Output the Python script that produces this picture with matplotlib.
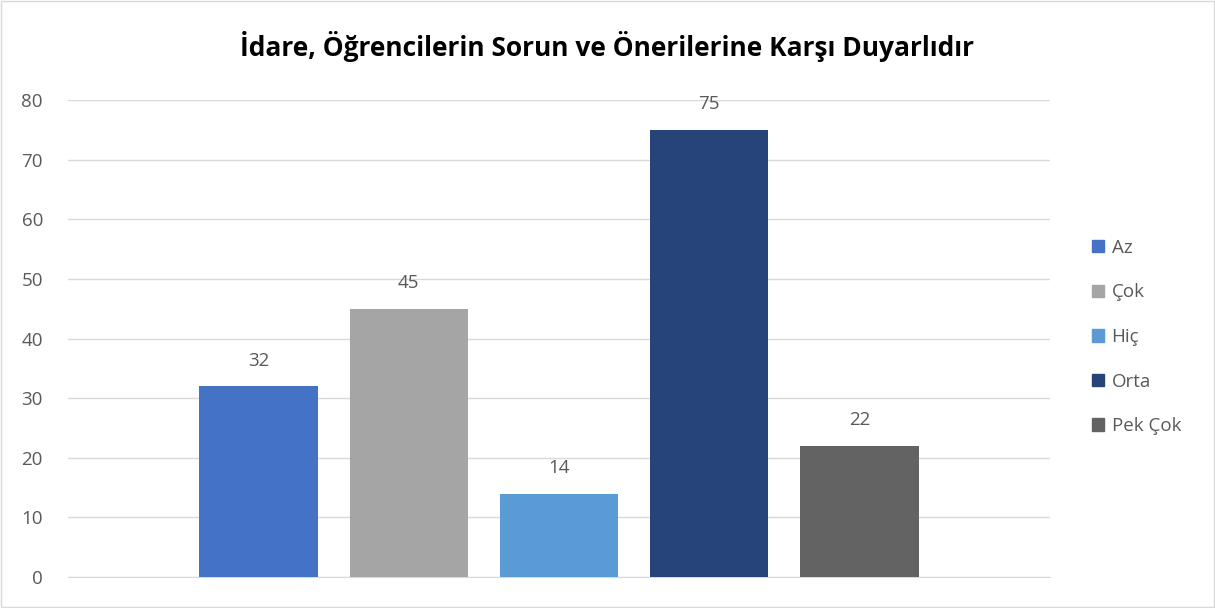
import matplotlib.pyplot as plt
from matplotlib.patches import Patch

plt.rcParams['font.family'] = ['Open Sans', 'DejaVu Sans']

title = 'İdare, Öğrencilerin Sorun ve Önerilerine Karşı Duyarlıdır'
categories = ['Az', 'Çok', 'Hiç', 'Orta', 'Pek Çok']
values = [32, 45, 14, 75, 22]
colors = ['#4472C4', '#A5A5A5', '#5B9BD5', '#264478', '#636363']

text_col = '#595959'

fig = plt.figure(figsize=(12.15, 6.08), dpi=100)
ax = fig.add_axes([68 / 1215, 1 - 577 / 608, 982 / 1215, 477 / 608])

xs = list(range(len(categories)))
bars = ax.bar(xs, values, width=0.79, color=colors, zorder=3)
for x, v in zip(xs, values):
    ax.text(x, v + 2.8, str(v), ha='center', va='bottom', fontsize=13.5, color=text_col)

ax.set_xlim(-1.27, 5.27)
ax.set_ylim(0, 80)
ax.set_yticks(range(0, 81, 10))
ax.tick_params(axis='y', length=0, labelsize=13.5, labelcolor=text_col, pad=18)
ax.set_xticks([])
ax.grid(axis='y', color='#D9D9D9', linewidth=1, zorder=0)
for s in ['top', 'right', 'left']:
    ax.spines[s].set_visible(False)
ax.spines['bottom'].set_color('#D9D9D9')

fig.text(0.5, 1 - 47 / 608, title, ha='center', va='center', fontsize=19,
         fontweight='bold', color='black')

handles = [Patch(color=c, label=l) for c, l in zip(colors, categories)]
fig.legend(handles=handles, loc='center left', bbox_to_anchor=(1075 / 1215, 1 - 337 / 608),
           frameon=False, fontsize=13.5, labelcolor=text_col, handlelength=0.65,
           handleheight=0.65, handletextpad=0.4, labelspacing=1.42)

# thin border around the chart
fig.patches.append(plt.Rectangle((0.001, 0.002), 0.998, 0.996, transform=fig.transFigure,
                                 fill=False, edgecolor='#D9D9D9', linewidth=1))

fig.savefig('out.png', dpi=100)
